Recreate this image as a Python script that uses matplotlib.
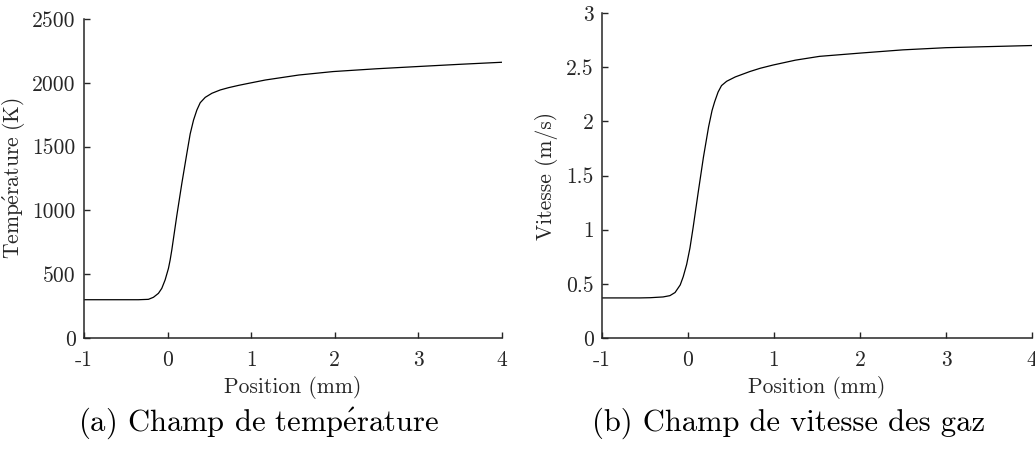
import numpy as np
import matplotlib.pyplot as plt

# values
pos_T = [-1.0, -0.5, -0.35, -0.23, -0.17, -0.11, -0.07, -0.03, 0.01, 0.03, 0.05,
         0.11, 0.17, 0.23, 0.27, 0.31, 0.35, 0.39, 0.45, 0.53, 0.63, 0.73,
         0.85, 0.97, 1.17, 1.57, 1.98, 2.5, 2.98, 3.5, 4.0]
temp = [300, 300, 300, 303, 319, 350, 389, 455, 546, 611, 690,
        960, 1212, 1447, 1600, 1708, 1787, 1844, 1886, 1918, 1944, 1962,
        1980, 1996, 2022, 2061, 2088, 2110, 2127, 2145, 2161]

pos_u = [-1.0, -0.56, -0.44, -0.29, -0.21, -0.15, -0.09, -0.055, -0.015, 0.023,
         0.06, 0.12, 0.18, 0.24, 0.28, 0.31, 0.35, 0.39, 0.45, 0.55, 0.72,
         0.84, 0.99, 1.25, 1.53, 2.0, 2.5, 3.0, 3.5, 4.0]
vit = [0.37, 0.37, 0.372, 0.379, 0.391, 0.42, 0.49, 0.566, 0.68, 0.83,
       1.02, 1.35, 1.67, 1.95, 2.10, 2.18, 2.27, 2.33, 2.37, 2.41, 2.46,
       2.49, 2.52, 2.565, 2.60, 2.63, 2.66, 2.68, 2.69, 2.70]

xticks = [-1, 0, 1, 2, 3, 4]
xticklabels = ['-1', '0', '1', '2', '3', '4']
yticks_T = [0, 500, 1000, 1500, 2000, 2500]
yticks_u = [0, 0.5, 1, 1.5, 2, 2.5, 3]
yticklabels_u = ['0', '0.5', '1', '1.5', '2', '2.5', '3']

plt.rcParams['font.family'] = ['cmr10', 'DejaVu Serif']
plt.rcParams['mathtext.fontset'] = 'cm'
plt.rcParams['axes.unicode_minus'] = False

txt = '#262626'
fs = 15.5
fig = plt.figure(figsize=(10.35, 4.49), dpi=100)
ax1 = fig.add_axes([0.0812, 0.2472, 0.4038, 0.7105])
ax2 = fig.add_axes([0.5816, 0.2472, 0.4155, 0.7238])


def style(ax):
    for s in ['top', 'right']:
        ax.spines[s].set_visible(False)
    for s in ['left', 'bottom']:
        ax.spines[s].set_linewidth(1.1)
        ax.spines[s].set_color(txt)
    ax.tick_params(direction='in', length=4, width=1, colors=txt, labelsize=fs, pad=6)
    ax.tick_params(axis='x', pad=9)
    ax.set_xlim(-1, 4)
    ax.set_xticks(xticks)
    ax.set_xticklabels(xticklabels)
    ax.set_xlabel('Position (mm)', fontsize=fs, color=txt, labelpad=4)


ax1.plot(pos_T, temp, color='black', lw=0.9)
style(ax1)
ax1.set_ylim(0, 2500)
ax1.set_yticks(yticks_T)
ax1.set_yticklabels([str(v) for v in yticks_T])
ax1.set_ylabel(r'$\mathrm{Temp\acute{e}rature\ (K)}$', fontsize=fs, color=txt, labelpad=4)

ax2.plot(pos_u, vit, color='black', lw=0.9)
style(ax2)
ax2.set_ylim(0, 3)
ax2.set_yticks(yticks_u)
ax2.set_yticklabels(yticklabels_u)
ax2.set_ylabel('Vitesse (m/s)', fontsize=fs, color=txt, labelpad=6)

fig.text(258 / 1035, 1 - 423 / 449, r'(a) Champ de temp$\mathrm{\acute{e}}$rature',
         fontsize=22, ha='center', va='center', color='black')
fig.text(789 / 1035, 1 - 423 / 449, '(b) Champ de vitesse des gaz',
         fontsize=22, ha='center', va='center', color='black')

fig.savefig('out.png', dpi=100)
